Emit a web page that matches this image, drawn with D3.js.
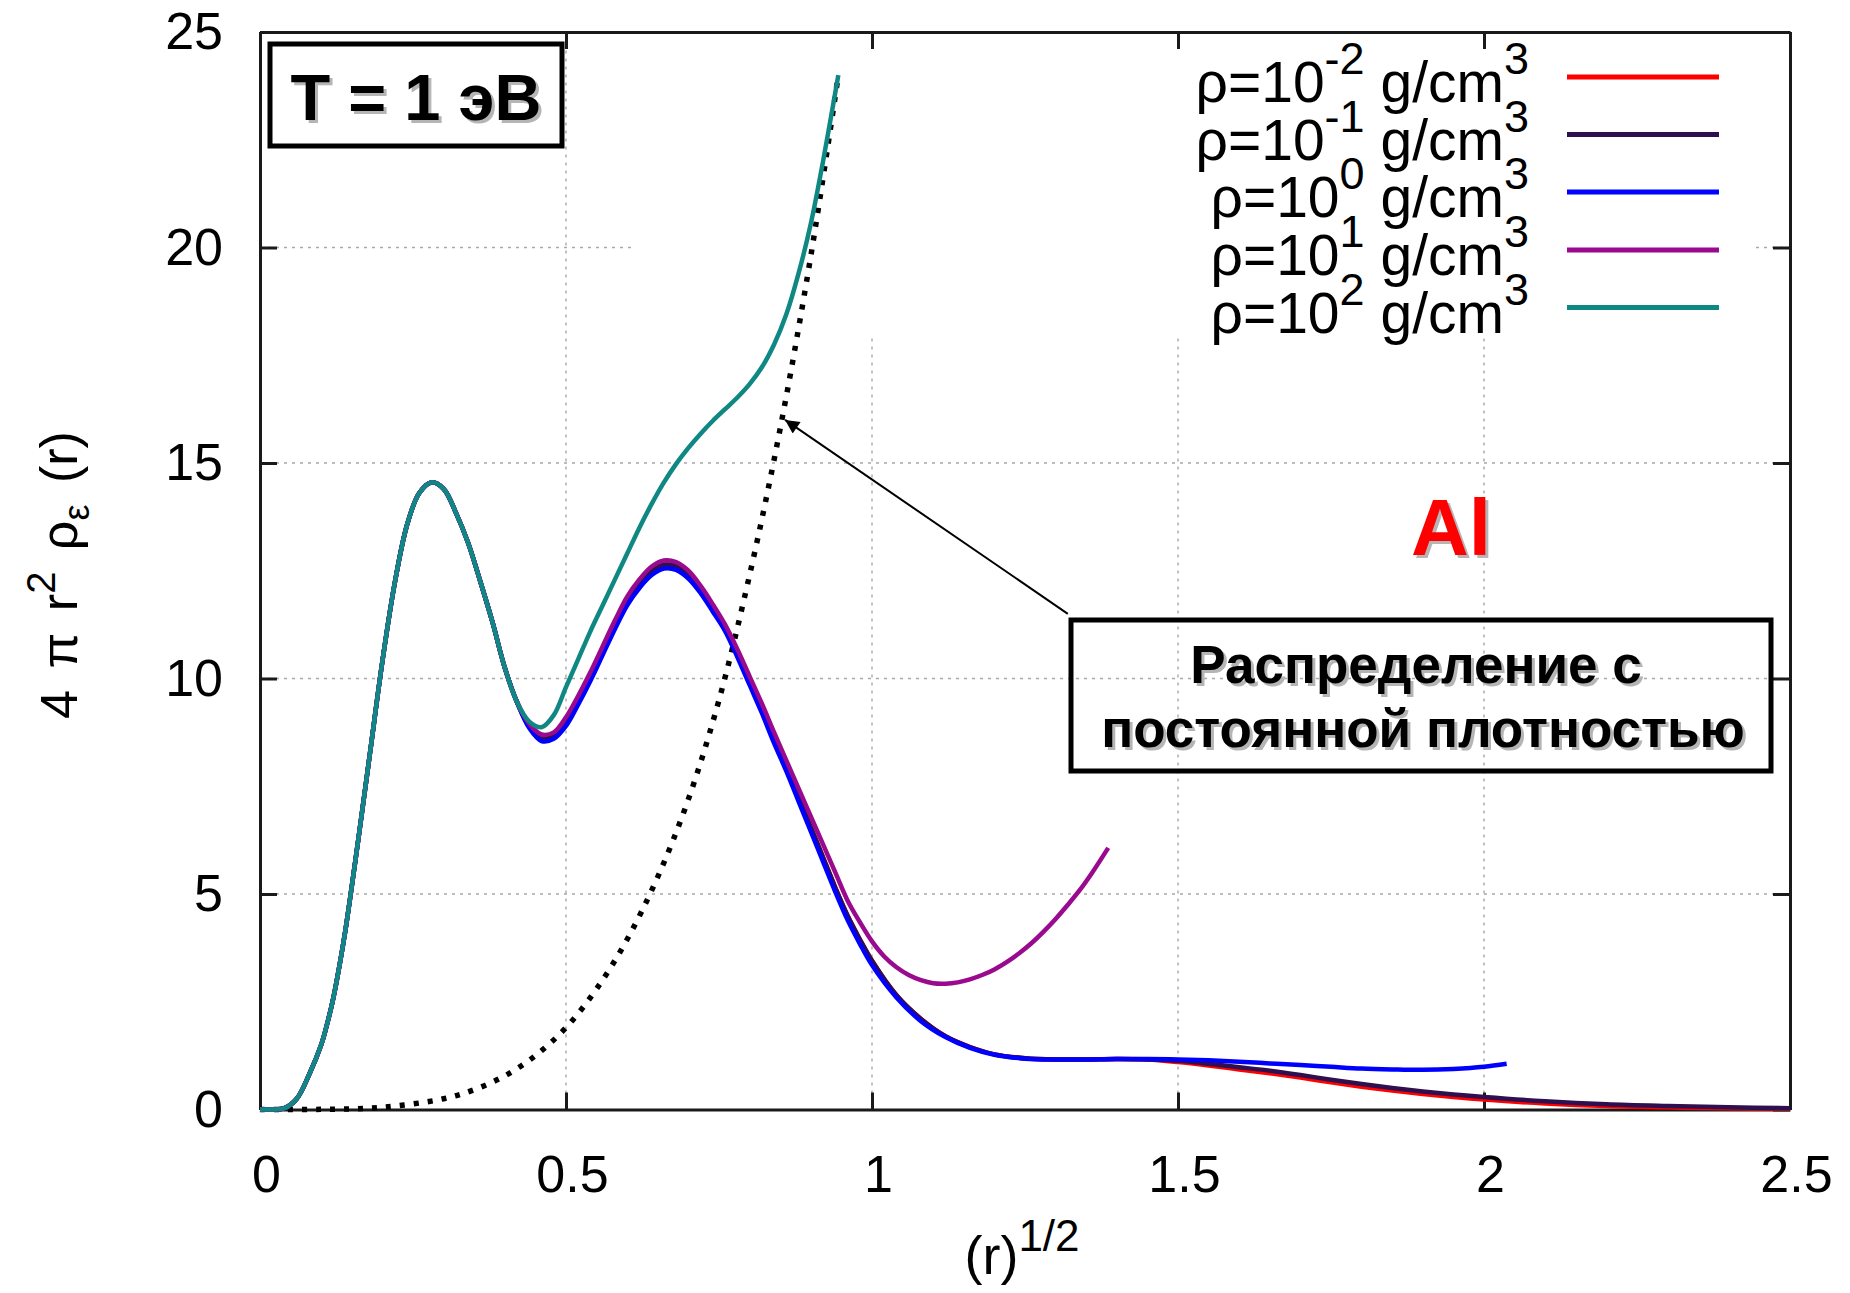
<!DOCTYPE html>
<html><head><meta charset="utf-8">
<script src="https://cdn.jsdelivr.net/npm/d3@7"></script>
<style>
body{margin:0;background:#fff}
svg{display:block}
text{font-family:"Liberation Sans",Arial,Helvetica,sans-serif}
</style>
</head><body>
<svg id="c" width="1850" height="1293"></svg>
<script>
// ---------- data ----------
const xTicks = [0, 0.5, 1, 1.5, 2, 2.5];
const yTicks = [0, 5, 10, 15, 20, 25];
const xTickLabels = ["0", "0.5", "1", "1.5", "2", "2.5"];
const yTickLabels = ["0", "5", "10", "15", "20", "25"];
const densityExponents = ["-2", "-1", "0", "1", "2"];

// shared inner-shell part of all distributions
const innerShell = [[0,0],[0.02,0],[0.04,0.03],[0.06,0.25],[0.08,0.8],[0.10,1.5],[0.11,2.0],[0.12,2.6],[0.13,3.35],
  [0.14,4.2],[0.16,6.2],[0.18,8.3],[0.20,10.4],[0.22,12.2],[0.24,13.55],[0.26,14.3],[0.28,14.55],[0.30,14.4],
  [0.32,13.85],[0.34,13.15],[0.36,12.25],[0.38,11.3],[0.40,10.25],[0.42,9.45]];

const rhoM1Tail = [[0.44,8.9],[0.46,8.65],[0.48,8.68],[0.50,9.0],[0.52,9.5],[0.54,10.05],[0.56,10.65],
  [0.58,11.25],[0.60,11.8],[0.62,12.2],[0.64,12.5],[0.66,12.64],[0.68,12.6],[0.70,12.4],[0.72,12.05],
  [0.74,11.65],[0.76,11.2],[0.78,10.6],[0.80,9.95],[0.82,9.3],[0.84,8.6],[0.86,7.95],[0.88,7.25],
  [0.90,6.55],[0.92,5.85],[0.94,5.15],[0.96,4.5],[0.98,3.95],[1.00,3.45],[1.04,2.65],[1.08,2.1],
  [1.12,1.7],[1.16,1.45],[1.20,1.28],[1.25,1.19],[1.30,1.16],[1.35,1.16],[1.40,1.17],[1.45,1.16],
  [1.50,1.13],[1.55,1.06],[1.60,0.98],[1.65,0.9],[1.70,0.8],[1.75,0.69],[1.80,0.59],[1.85,0.5],
  [1.90,0.42],[1.95,0.35],[2.00,0.29],[2.10,0.19],[2.20,0.12],[2.30,0.08],[2.40,0.05],[2.50,0.03]];

const rhoM2Tail = [[1.50,1.1],[1.55,1.02],[1.60,0.93],[1.65,0.84],[1.70,0.74],[1.75,0.63],[1.80,0.53],
  [1.85,0.44],[1.90,0.36],[1.95,0.29],[2.00,0.23],[2.10,0.14],[2.20,0.08],[2.30,0.05],[2.40,0.03],[2.50,0.02]];

const rho0Tail = [[0.44,8.85],[0.46,8.55],[0.48,8.6],[0.50,8.9],[0.52,9.4],[0.54,9.95],[0.56,10.55],
  [0.58,11.15],[0.60,11.7],[0.62,12.1],[0.64,12.4],[0.66,12.55],[0.68,12.52],[0.70,12.32],[0.72,11.98],
  [0.74,11.55],[0.76,11.1],[0.78,10.5],[0.80,9.85],[0.82,9.2],[0.84,8.5],[0.86,7.85],[0.88,7.15],
  [0.90,6.45],[0.92,5.75],[0.94,5.05],[0.96,4.4],[0.98,3.85],[1.00,3.35],[1.04,2.6],[1.08,2.05],
  [1.12,1.68],[1.16,1.43],[1.20,1.27],[1.25,1.18],[1.30,1.16],[1.35,1.16],[1.40,1.17],[1.45,1.17],
  [1.50,1.16],[1.55,1.14],[1.60,1.11],[1.65,1.07],[1.70,1.03],[1.75,0.99],[1.80,0.95],[1.85,0.93],
  [1.90,0.92],[1.95,0.94],[2.00,0.99],[2.037,1.06]];

const rho1Tail = [[0.44,8.95],[0.46,8.7],[0.48,8.75],[0.50,9.1],[0.52,9.6],[0.54,10.15],[0.56,10.75],
  [0.58,11.35],[0.60,11.9],[0.62,12.3],[0.64,12.6],[0.66,12.74],[0.68,12.7],[0.70,12.5],[0.72,12.15],
  [0.74,11.72],[0.76,11.25],[0.78,10.68],[0.80,10.05],[0.82,9.42],[0.84,8.75],[0.86,8.1],[0.88,7.45],
  [0.90,6.8],[0.92,6.15],[0.94,5.5],[0.96,4.85],[0.98,4.35],[1.00,3.9],[1.02,3.55],[1.04,3.3],
  [1.06,3.12],[1.08,3.0],[1.10,2.93],[1.12,2.92],[1.14,2.95],[1.16,3.02],[1.18,3.12],[1.20,3.25],
  [1.22,3.42],[1.24,3.62],[1.26,3.85],[1.28,4.12],[1.30,4.42],[1.32,4.75],[1.34,5.1],[1.36,5.5],[1.386,6.07]];

const rho2Tail = [[0.44,9.0],[0.46,8.87],[0.48,9.15],[0.50,9.8],[0.52,10.45],[0.54,11.1],[0.56,11.7],
  [0.58,12.3],[0.60,12.9],[0.62,13.5],[0.64,14.05],[0.66,14.55],[0.68,14.98],[0.70,15.35],[0.72,15.68],
  [0.74,15.98],[0.76,16.25],[0.78,16.52],[0.80,16.83],[0.82,17.22],[0.84,17.75],[0.86,18.45],[0.88,19.4],
  [0.90,20.55],[0.92,22.0],[0.945,24.0]];

const uniformDensity = [[0,0],[0.1,0.003],[0.2,0.05],[0.3,0.25],[0.35,0.46],[0.4,0.78],[0.45,1.25],
  [0.5,1.9],[0.55,2.8],[0.6,3.95],[0.65,5.4],[0.7,7.2],[0.75,9.5],[0.8,12.4],[0.85,15.8],[0.9,19.8],[0.945,24.0]];

const rhoM1 = innerShell.concat(rhoM1Tail);
const rhoM2 = innerShell.concat(rhoM1Tail.filter(d => d[0] < 1.5), rhoM2Tail);
const rho0 = innerShell.concat(rho0Tail);
const rho1 = innerShell.concat(rho1Tail);
const rho2 = innerShell.concat(rho2Tail);

const arrowFrom = [1.32, 11.5];
const arrowTo = [0.858, 16.0];

// ---------- styles ----------
const seriesData = [rhoM2, rhoM1, rho0, rho1, rho2];
const seriesColors = ["#ff0000", "#2e0f4f", "#0000ff", "#9a0a8f", "#0f8884"];

const svg = d3.select("#c");
const L = 260, R = 1790, T = 32, B = 1109.5;
const x = d3.scaleLinear().domain([0, 2.5]).range([L, R]);
const y = d3.scaleLinear().domain([0, 25]).range([B, T]);
const FS = 52;

// grid
const grid = svg.append("g").attr("stroke", "#a8a8a8").attr("stroke-width", 1.4).attr("stroke-dasharray", "3,5");
xTicks.slice(1, -1).forEach(v => grid.append("line").attr("x1", x(v)).attr("x2", x(v)).attr("y1", B).attr("y2", T));
yTicks.slice(1, -1).forEach(v => grid.append("line").attr("x1", L).attr("x2", R).attr("y1", y(v)).attr("y2", y(v)));

// opaque key area
svg.append("rect").attr("x", 631).attr("y", T + 2).attr("width", 1755 - 631).attr("height", 337 - T - 2).attr("fill", "#fff");

// axes
const axColor = "#1a1a1a";
function styleAxis(g) {
  g.select(".domain").attr("stroke", axColor).attr("stroke-width", 3);
  g.selectAll(".tick line").attr("stroke", axColor).attr("stroke-width", 3);
  g.selectAll(".tick text").attr("fill", "#000").attr("font-size", FS).attr("font-family", '"Liberation Sans",Arial,sans-serif');
}
svg.append("g").attr("transform", `translate(0,${B})`)
  .call(d3.axisBottom(x).tickValues(xTicks).tickFormat((d, i) => xTickLabels[i]).tickSize(-17).tickSizeOuter(0).tickPadding(46))
  .call(styleAxis).call(g => g.selectAll(".tick text").attr("x", 6));
svg.append("g").attr("transform", `translate(0,${T})`)
  .call(d3.axisTop(x).tickValues(xTicks).tickFormat("").tickSize(-17).tickSizeOuter(0)).call(styleAxis);
svg.append("g").attr("transform", `translate(${L},0)`)
  .call(d3.axisLeft(y).tickValues(yTicks).tickFormat((d, i) => yTickLabels[i]).tickSize(-17).tickSizeOuter(0).tickPadding(37))
  .call(styleAxis);
svg.append("g").attr("transform", `translate(${R},0)`)
  .call(d3.axisRight(y).tickValues(yTicks).tickFormat("").tickSize(-17).tickSizeOuter(0)).call(styleAxis);

// axis labels
const xl = svg.append("text").attr("x", 1022).attr("y", 1274).attr("text-anchor", "middle").attr("font-size", 54);
xl.append("tspan").text("(r)");
xl.append("tspan").attr("font-size", 44).attr("dy", -23).text("1/2");

const yl = svg.append("text").attr("transform", "translate(77,575) rotate(-90)").attr("text-anchor", "middle")
  .attr("font-size", FS).attr("word-spacing", 7);
yl.append("tspan").text("4 π r");
yl.append("tspan").attr("font-size", 40).attr("dy", -22).text("2");
yl.append("tspan").attr("dy", 22).text(" ρ");
yl.append("tspan").attr("font-size", 36).attr("dy", 12).text("ε");
yl.append("tspan").attr("dy", -12).text(" (r)");

// legend
const legendY = [77, 134.5, 192, 250, 307.5];
densityExponents.forEach((e, i) => {
  const t = svg.append("text").attr("x", 1529).attr("y", legendY[i] + 25).attr("text-anchor", "end").attr("font-size", 57);
  t.append("tspan").text("ρ=10");
  t.append("tspan").attr("font-size", 45).attr("dy", -28).text(e);
  t.append("tspan").attr("dy", 28).text(" g/cm");
  t.append("tspan").attr("font-size", 45).attr("dy", -28).text("3");
  svg.append("line").attr("x1", 1567).attr("x2", 1719).attr("y1", legendY[i]).attr("y2", legendY[i])
    .attr("stroke", seriesColors[i]).attr("stroke-width", 5);
});

// curves
const line = d3.line().x(d => x(d[0])).y(d => y(d[1])).curve(d3.curveCatmullRom.alpha(0.5));
svg.append("path").datum(uniformDensity).attr("d", line).attr("fill", "none").attr("stroke", "#000")
  .attr("stroke-width", 5.5).attr("stroke-dasharray", "5,9");
seriesData.forEach((s, i) => {
  svg.append("path").datum(s).attr("d", line).attr("fill", "none").attr("stroke", seriesColors[i])
    .attr("stroke-width", 4.5).attr("stroke-linejoin", "round");
});

// arrow
svg.append("defs").append("marker").attr("id", "ah").attr("viewBox", "0 0 10 10").attr("refX", 10).attr("refY", 5)
  .attr("markerWidth", 22).attr("markerHeight", 14).attr("markerUnits", "userSpaceOnUse").attr("orient", "auto")
  .append("path").attr("d", "M0,0 L10,5 L0,10 z").attr("fill", "#000");
svg.append("line").attr("x1", x(arrowFrom[0])).attr("y1", y(arrowFrom[1])).attr("x2", x(arrowTo[0])).attr("y2", y(arrowTo[1]))
  .attr("stroke", "#000").attr("stroke-width", 2).attr("marker-end", "url(#ah)");

// shadowed bold text helper
function shadowText(px, py, str, size, color) {
  svg.append("text").attr("x", px + 3).attr("y", py + 3).attr("text-anchor", "middle").attr("font-size", size)
    .attr("font-weight", "bold").attr("fill", "#b5b5b5").text(str);
  svg.append("text").attr("x", px).attr("y", py).attr("text-anchor", "middle").attr("font-size", size)
    .attr("font-weight", "bold").attr("fill", color).text(str);
}

// T box
svg.append("rect").attr("x", 270).attr("y", 44).attr("width", 292).attr("height", 102).attr("fill", "none")
  .attr("stroke", "#000").attr("stroke-width", 5);
shadowText(416, 120, "T = 1 эВ", 65, "#000");

// Al
shadowText(1451, 555, "Al", 80, "#ff0000");

// annotation box
svg.append("rect").attr("x", 1071).attr("y", 620).attr("width", 700).attr("height", 151).attr("fill", "none")
  .attr("stroke", "#000").attr("stroke-width", 5);
shadowText(1416, 683, "Распределение с", 53, "#000");
shadowText(1423, 747, "постоянной плотностью", 53, "#000");
</script>
</body></html>
